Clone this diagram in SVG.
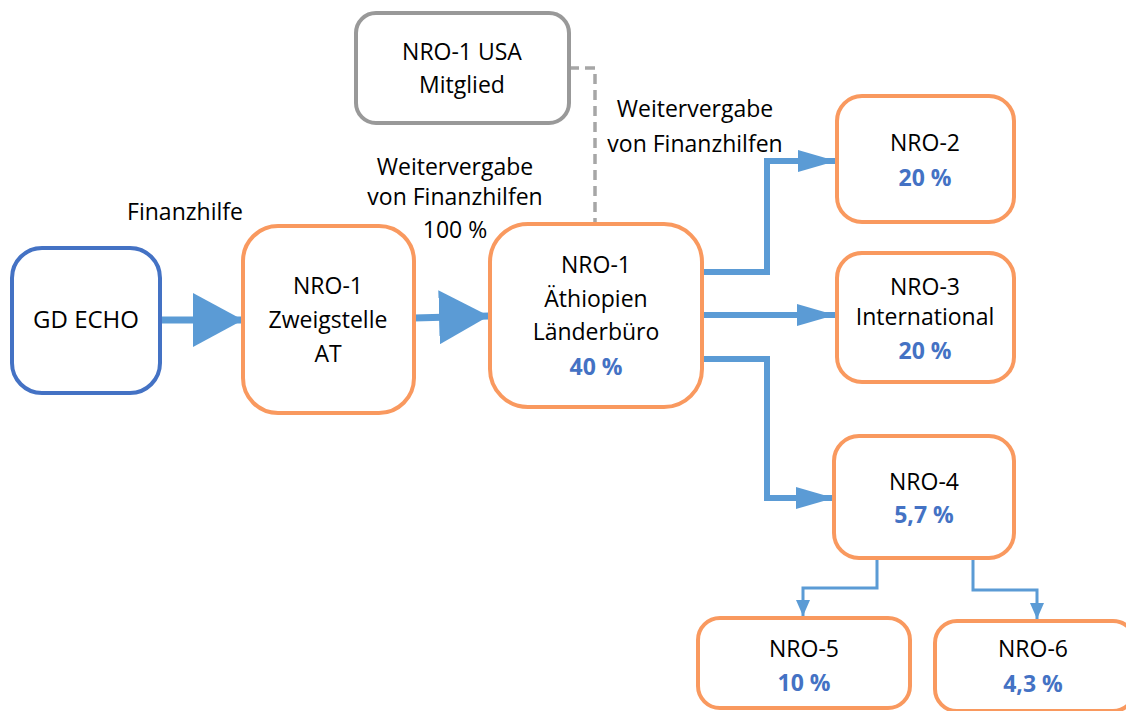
<svg xmlns="http://www.w3.org/2000/svg" width="1126" height="711" viewBox="0 0 1126 711">
<style>
text{font-family:"Open Sans","Noto Sans","Liberation Sans",sans-serif;font-size:23px;fill:#000;text-anchor:middle}
.pct{fill:#4472C4;font-weight:bold}
.org{fill:#fff;stroke:#F9995F;stroke-width:4}
.blu{fill:#fff;stroke:#4472C4;stroke-width:4}
.gry{fill:#fff;stroke:#999;stroke-width:4}
.c{fill:none;stroke:#5B9BD5}
</style>
<defs>
<marker id="aBig" markerUnits="userSpaceOnUse" markerWidth="50" markerHeight="54" viewBox="0 0 50 54" refX="50" refY="27" orient="auto"><path d="M0,0 L50,27 L0,54 z" fill="#5B9BD5"/></marker>
<marker id="aMed" markerUnits="userSpaceOnUse" markerWidth="38" markerHeight="22" viewBox="0 0 38 22" refX="38" refY="11" orient="auto"><path d="M0,0 L38,11 L0,22 z" fill="#5B9BD5"/></marker>
<marker id="aSm" markerUnits="userSpaceOnUse" markerWidth="16" markerHeight="14" viewBox="0 0 16 14" refX="16" refY="7" orient="auto"><path d="M0,0 L16,7 L0,14 z" fill="#5B9BD5"/></marker>
</defs>
<g id="connectors">
<path d="M569,68 H595 V224" fill="none" stroke="#A6A6A6" stroke-width="3.5" stroke-dasharray="10,6"/>
<path class="c" stroke-width="7" d="M160,320 H243" marker-end="url(#aBig)"/>
<path class="c" stroke-width="7" d="M414,318 L489,316" marker-end="url(#aBig)"/>
<path class="c" stroke-width="6" d="M702,272 H767 V161 H836" marker-end="url(#aMed)"/>
<path class="c" stroke-width="6" d="M702,315 H835" marker-end="url(#aMed)"/>
<path class="c" stroke-width="6" d="M702,359 H767 V498 H834" marker-end="url(#aMed)"/>
<path class="c" stroke-width="3" d="M877,558 V588 H803 V616" marker-end="url(#aSm)"/>
<path class="c" stroke-width="3" d="M973,558 V590 H1037 V619" marker-end="url(#aSm)"/>
<text x="185" y="220">Finanzhilfe</text>
<text x="455" y="175">Weitervergabe</text>
<text x="455" y="205">von Finanzhilfen</text>
<text x="455" y="238">100 %</text>
<text x="695" y="117">Weitervergabe</text>
<text x="695" y="152">von Finanzhilfen</text>
</g>
<g id="gdecho">
<rect class="blu" x="12" y="248" width="148" height="145" rx="30"/>
<text x="86" y="328" style="font-size:24px">GD ECHO</text>
</g>
<g id="nro1at">
<rect class="org" x="243" y="226" width="171" height="187" rx="35"/>
<text x="328" y="294">NRO-1</text>
<text x="328" y="328">Zweigstelle</text>
<text x="328" y="362">AT</text>
</g>
<g id="nro1usa">
<rect class="gry" x="356" y="13" width="213" height="110" rx="20"/>
<text x="462" y="60">NRO-1 USA</text>
<text x="462" y="93">Mitglied</text>
</g>
<g id="nro1eth">
<rect class="org" x="490" y="224" width="212" height="183" rx="38"/>
<text x="596" y="273">NRO-1</text>
<text x="596" y="307">Äthiopien</text>
<text x="596" y="340">Länderbüro</text>
<text class="pct" x="596" y="375">40 %</text>
</g>
<g id="nro2">
<rect class="org" x="837" y="96" width="177" height="126" rx="25"/>
<text x="925" y="151">NRO-2</text>
<text class="pct" x="925" y="186">20 %</text>
</g>
<g id="nro3">
<rect class="org" x="837" y="253" width="177" height="129" rx="25"/>
<text x="925" y="295">NRO-3</text>
<text x="925" y="325">International</text>
<text class="pct" x="925" y="359">20 %</text>
</g>
<g id="nro4">
<rect class="org" x="834" y="436" width="180" height="122" rx="25"/>
<text x="924" y="490">NRO-4</text>
<text class="pct" x="924" y="523">5,7 %</text>
</g>
<g id="nro5">
<rect class="org" x="698" y="618" width="212" height="90" rx="22"/>
<text x="804" y="657">NRO-5</text>
<text class="pct" x="804" y="691">10 %</text>
</g>
<g id="nro6">
<rect class="org" x="935" y="621" width="200" height="90" rx="22"/>
<text x="1033" y="657">NRO-6</text>
<text class="pct" x="1033" y="692">4,3 %</text>
</g>
</svg>
